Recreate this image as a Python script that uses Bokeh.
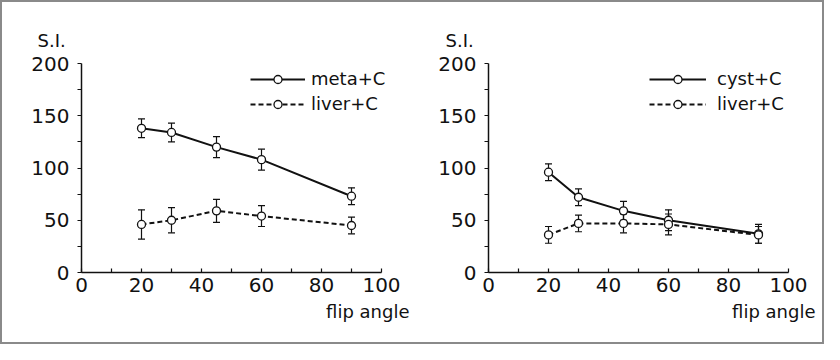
from bokeh.plotting import figure
from bokeh.models import (ColumnDataSource, Whisker, TeeHead, FixedTicker, Title,
                          Legend, LegendItem)
from bokeh.layouts import row
from bokeh.embed import file_html
from bokeh.resources import INLINE

# ---- data ----
flip_angle = [20, 30, 45, 60, 90]

meta_c = [138, 134, 120, 108, 73]
meta_c_err = [9, 9, 10, 10, 8]
liver_c_left = [46, 50, 59, 54, 45]
liver_c_left_err = [14, 12, 11, 10, 8]

cyst_c = [96, 72, 59, 50, 37]
cyst_c_err = [8, 8, 9, 10, 9]
liver_c_right = [36, 47, 47, 46, 36]
liver_c_right_err = [8, 8, 9, 10, 8]

x_ticks = [0, 20, 40, 60, 80, 100]
x_minor = [10, 30, 50, 70, 90]
y_ticks = [0, 50, 100, 150, 200]
y_minor = [25, 75, 125, 175]

FONT = "DejaVu Sans"
FS = "18px"
TICK_FS = "20px"
INK = "#111111"


def panel(name1, s1, e1, name2, s2, e2, mleft, mright, leg_x, standoff, glyph_w,
          si_off, fa_off):
    p = figure(width=410, height=340, x_range=(0, 103), y_range=(0, 200),
               output_backend="svg", toolbar_location=None,
               min_border_left=mleft, min_border_right=mright,
               min_border_top=61, min_border_bottom=70)
    p.outline_line_color = None
    p.grid.visible = False
    p.background_fill_color = "white"
    p.border_fill_color = "white"

    for ax in (p.xaxis[0], p.yaxis[0]):
        ax.axis_line_width = 1.5
        ax.axis_line_color = INK
        ax.major_tick_line_color = INK
        ax.minor_tick_line_color = INK
        ax.major_tick_line_width = 1.2
        ax.minor_tick_line_width = 1.2
        ax.major_label_text_font = FONT
        ax.major_label_text_font_size = TICK_FS
        ax.major_label_text_color = INK

    p.xaxis.bounds = (0, 100)
    p.xaxis.ticker = FixedTicker(ticks=x_ticks, minor_ticks=x_minor)
    p.xaxis.major_tick_in = 4
    p.xaxis.major_tick_out = 0
    p.xaxis.minor_tick_in = 4
    p.xaxis.minor_tick_out = 0
    p.xaxis.major_label_standoff = 5

    p.yaxis.ticker = FixedTicker(ticks=y_ticks, minor_ticks=y_minor)
    p.yaxis.major_tick_in = 0
    p.yaxis.major_tick_out = 4
    p.yaxis.minor_tick_in = 0
    p.yaxis.minor_tick_out = 4
    p.yaxis.major_label_standoff = 8

    items = []
    for name, vals, errs, dash in ((name1, s1, e1, "solid"), (name2, s2, e2, "5 3")):
        src = ColumnDataSource(dict(
            x=flip_angle, y=vals,
            upper=[v + e for v, e in zip(vals, errs)],
            lower=[v - e for v, e in zip(vals, errs)]))
        w = Whisker(base="x", upper="upper", lower="lower", source=src,
                    line_width=1.2, line_color=INK,
                    upper_head=TeeHead(size=7, line_width=1.2, line_color=INK),
                    lower_head=TeeHead(size=7, line_width=1.2, line_color=INK))
        p.add_layout(w)
        ln = p.line("x", "y", source=src, line_width=2, line_color=INK,
                    line_dash=dash)
        sc = p.scatter("x", "y", source=src, size=8, fill_color="white",
                       line_color=INK, line_width=1.3)
        items.append(LegendItem(label=name, renderers=[ln, sc]))

    leg = Legend(items=items, location=(leg_x, 158), orientation="vertical",
                 padding=0, margin=0, spacing=4, glyph_width=glyph_w,
                 glyph_height=20, label_height=20, label_standoff=standoff,
                 label_text_font=FONT, label_text_font_size=FS,
                 label_text_color=INK, border_line_color=None,
                 background_fill_alpha=0)
    p.add_layout(leg, "center")

    p.add_layout(Title(text="S.I.", align="left", offset=si_off, standoff=26,
                       vertical_align="bottom", text_font=FONT,
                       text_font_size=FS, text_font_style="normal",
                       text_color=INK), "above")
    p.add_layout(Title(text="flip angle", align="right", offset=fa_off, standoff=12,
                       vertical_align="top", text_font=FONT,
                       text_font_size=FS, text_font_style="normal",
                       text_color=INK), "below")
    return p


left = panel("meta+C", meta_c, meta_c_err, "liver+C", liver_c_left, liver_c_left_err,
             79, 22, 169, 6, 55, -44, -19)
right = panel("cyst+C", cyst_c, cyst_c_err, "liver+C", liver_c_right, liver_c_right_err,
              76, 25, 161, 11, 57, -43, -18)

layout = row(left, right, styles={"border": "2px solid #8a8a8a"})

open("out.html", "w").write(file_html(layout, INLINE))
